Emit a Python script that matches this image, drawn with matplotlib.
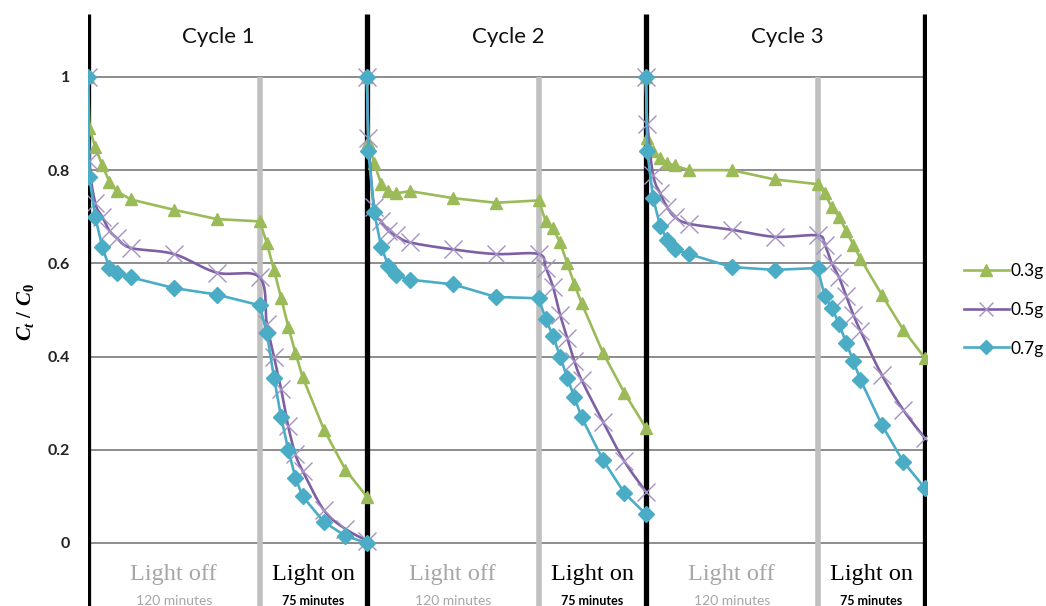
import numpy as np
import matplotlib
matplotlib.use("Agg")
import matplotlib.pyplot as plt
from matplotlib.lines import Line2D

plt.rcParams['font.family'] = ['Lato', 'DejaVu Sans']
plt.rcParams['mathtext.fontset'] = 'custom'
plt.rcParams['mathtext.it'] = 'Liberation Serif:bold:italic'
plt.rcParams['mathtext.rm'] = 'Liberation Serif:bold'

# ---- data -------------------------------------------------------------
cycle_len = 195          # 120 min dark + 75 min light
off_t = [0, 1, 5, 10, 15, 20, 30, 60, 90, 120]
on_t = [125, 130, 135, 140, 145, 150, 165, 180, 195]
cycles = ["Cycle 1", "Cycle 2", "Cycle 3"]

g03 = [
    [1.0, 0.89, 0.85, 0.81, 0.775, 0.755, 0.737, 0.715, 0.695, 0.69,
     0.644, 0.586, 0.526, 0.464, 0.408, 0.356, 0.243, 0.157, 0.099],
    [1.0, 0.86, 0.815, 0.77, 0.755, 0.75, 0.755, 0.74, 0.73, 0.735,
     0.69, 0.675, 0.645, 0.60, 0.555, 0.515, 0.408, 0.322, 0.247],
    [1.0, 0.87, 0.84, 0.825, 0.815, 0.81, 0.80, 0.80, 0.78, 0.77,
     0.75, 0.72, 0.70, 0.67, 0.64, 0.61, 0.532, 0.457, 0.397],
]
g05 = [
    [1.0, 0.82, 0.73, 0.70, 0.67, 0.655, 0.633, 0.62, 0.58, 0.57,
     0.47, 0.40, 0.33, 0.25, 0.19, 0.155, 0.07, 0.03, 0.005],
    [1.0, 0.87, 0.72, 0.69, 0.67, 0.66, 0.645, 0.63, 0.62, 0.62,
     0.59, 0.55, 0.49, 0.44, 0.39, 0.35, 0.26, 0.175, 0.11],
    [1.0, 0.90, 0.79, 0.75, 0.72, 0.70, 0.685, 0.672, 0.657, 0.66,
     0.64, 0.60, 0.57, 0.53, 0.49, 0.455, 0.36, 0.285, 0.225],
]
g07 = [
    [1.0, 0.785, 0.70, 0.635, 0.59, 0.58, 0.57, 0.547, 0.533, 0.51,
     0.45, 0.355, 0.27, 0.20, 0.14, 0.10, 0.045, 0.015, 0.0],
    [1.0, 0.84, 0.71, 0.635, 0.595, 0.575, 0.565, 0.555, 0.528, 0.525,
     0.48, 0.445, 0.40, 0.355, 0.313, 0.27, 0.178, 0.107, 0.062],
    [1.0, 0.84, 0.74, 0.68, 0.65, 0.63, 0.62, 0.592, 0.586, 0.59,
     0.53, 0.505, 0.47, 0.43, 0.39, 0.35, 0.253, 0.174, 0.118],
]

green = '#9BBB59'
purple = '#7D5FA3'
purple_mk = '#A591C4'
blue = '#4BACC6'


def smooth(x, y, sx=1.43, sy=466.0, n=12):
    # Excel-like smoothed line (bezier through the points), in pixel-ish space
    p = np.column_stack([np.asarray(x) * sx, np.asarray(y) * sy])
    p = np.vstack([p[0], p, p[-1]])
    out = []
    for i in range(1, len(p) - 2):
        p0, p1, p2, p3 = p[i - 1], p[i], p[i + 1], p[i + 2]
        c1 = p1 + (p2 - p0) / 6
        c2 = p2 - (p3 - p1) / 6
        s = np.linspace(0, 1, n)[:, None]
        b = (1 - s) ** 3 * p1 + 3 * (1 - s) ** 2 * s * c1 + 3 * (1 - s) * s ** 2 * c2 + s ** 3 * p2
        out.append(b if i == 1 else b[1:])
    out = np.vstack(out)
    return out[:, 0] / sx, out[:, 1] / sy


fig = plt.figure(figsize=(10.46, 6.06), dpi=100)
ax = fig.add_axes([88 / 1046, 0, (927 - 88) / 1046, (606 - 14) / 606])
ax.set_xlim(0, 586.5)
ax.set_ylim(-0.1352, 1.135)
for s in ax.spines.values():
    s.set_visible(False)
ax.set_xticks([])
ax.set_yticks([0, 0.2, 0.4, 0.6, 0.8, 1.0])
ax.set_yticklabels(['0', '0.2', '0.4', '0.6', '0.8', '1'])
ax.tick_params(axis='y', length=0, pad=13, labelsize=11.5, labelcolor='#222222')
for lab in ax.get_yticklabels():
    lab.set_fontweight('bold')

for v in [0, 0.2, 0.4, 0.6, 0.8, 1.0]:
    ax.axhline(v, color='#8C8C8C', lw=1.4, zorder=1)

for k in range(3):
    c0 = k * cycle_len
    ax.plot([c0 + 120, c0 + 120], [-0.14, 1.0], color='#C0C0C0', lw=4, zorder=2, solid_capstyle='butt')
for k in range(4):
    ax.plot([k * cycle_len] * 2, [-0.14, 1.135], color='black', lw=3.8, zorder=2, solid_capstyle='butt')

for k in range(3):
    c0 = k * cycle_len
    x = np.array(off_t + on_t) + c0
    ax.plot(x, g03[k], color=green, lw=1.9, marker='^', ms=9, zorder=4)
    sxv, syv = smooth(x, g05[k])
    ax.plot(sxv, syv, color=purple, lw=1.9, zorder=5)
    ax.plot(x, g05[k], ls='none', marker='x', ms=13, mew=1.0, color=purple_mk, zorder=5)
    ax.plot(x, g07[k], color=blue, lw=1.9, marker='D', ms=8, zorder=6)

    ax.text(c0 + [91, 99, 99][k], 1.086, cycles[k], ha='center', va='center', fontsize=16, color='#111111')
    ax.text(c0 + 60, -0.068, 'Light off', ha='center', va='center', fontsize=17.5,
            family='Liberation Serif', color='#A6A6A6')
    ax.text(c0 + 60, -0.125, '120 minutes', ha='center', va='center', fontsize=10, color='#A6A6A6')
    ax.text(c0 + 157.5, -0.068, 'Light on', ha='center', va='center', fontsize=17.5,
            family='Liberation Serif', color='black')
    ax.text(c0 + 157.5, -0.125, '75 minutes', ha='center', va='center', fontsize=9,
            fontweight='bold', color='black')

fig.text(25 / 1046, 1 - 312 / 606, r'$C_t\ /\ C_0$', rotation=90, ha='center', va='center', fontsize=15)

handles = [
    Line2D([], [], color=green, lw=1.9, marker='^', ms=9),
    Line2D([], [], color=purple, lw=1.9, marker='x', ms=10, mew=1.0, mec=purple_mk),
    Line2D([], [], color=blue, lw=1.9, marker='D', ms=7),
]
fig.legend(handles, ['0.3g', '0.5g', '0.7g'], loc='center left',
           bbox_to_anchor=(948 / 1046, 1 - 310 / 606), frameon=False,
           fontsize=12.5, handlelength=2.6, handletextpad=0.1, labelspacing=1.3)

fig.savefig('out.png', dpi=100)
